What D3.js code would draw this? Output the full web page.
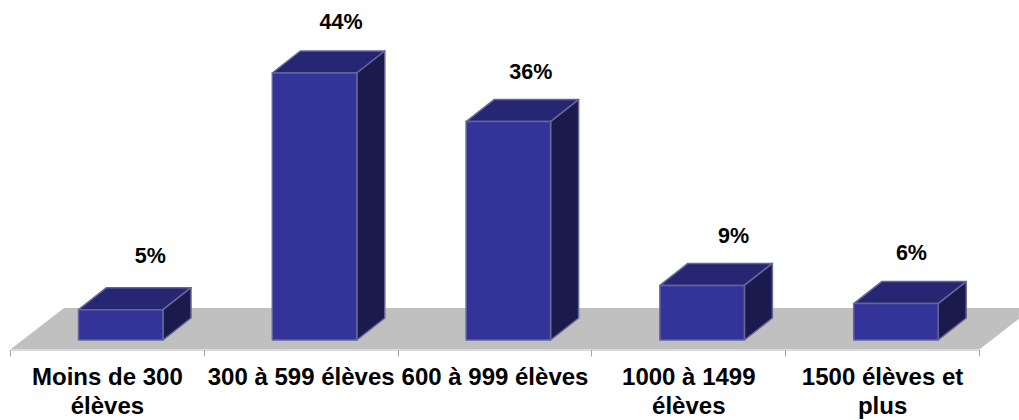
<!DOCTYPE html>
<html><head><meta charset="utf-8">
<script src="https://cdn.jsdelivr.net/npm/d3@7"></script>
<style>html,body{margin:0;padding:0;background:#fff}svg{display:block}text{font-family:"Liberation Sans",Arial,sans-serif;font-weight:bold;fill:#000}</style>
</head><body><script>
const categories = [["Moins de 300","élèves"],["300 à 599 élèves"],["600 à 999 élèves"],["1000 à 1499","élèves"],["1500 élèves et","plus"]];
const values = [5,44,36,9,6];
const labelNudgeX = [30,27,23,32,16];
const labelNudgeY = [-3,-1,1,1,0];

const W=1019,H=420;
const svg=d3.select("body").append("svg").attr("width",W).attr("height",H);
const x=d3.scaleBand().domain(d3.range(categories.length)).range([11,980]).paddingInner(0).paddingOuter(0);
const y=d3.scaleLinear().domain([0,44]).range([340,73]);
const dx=28,dy=-22;
const barOffset=67.5,barW=84.5;
const poly=p=>"M"+p.map(q=>q.join(",")).join("L")+"Z";

// floor
const fy0=349,fy1=308,fdx=53;
svg.append("path").attr("d",poly([[11,fy0],[980,fy0],[980+fdx,fy1],[11+fdx,fy1]])).attr("fill","#c0c0c0");

// axis
const axisG=svg.append("g");
axisG.append("line").attr("x1",11).attr("x2",980).attr("y1",350).attr("y2",350).attr("stroke","#cfcfcf").attr("stroke-width",1.5);
axisG.selectAll(".t").data(d3.range(categories.length+1)).join("line")
 .attr("x1",i=>Math.round(11+i*x.step())-.5).attr("x2",i=>Math.round(11+i*x.step())-.5)
 .attr("y1",350).attr("y2",356.5).attr("stroke","#a6a6a6").attr("stroke-width",1);

// bars
const stroke="#666699";
const g=svg.selectAll(".bar").data(values).join("g");
g.each(function(v,i){
  const s=d3.select(this),l=x(i)+barOffset,r=l+barW,t=y(v),b=y(0);
  const st=e=>e.attr("stroke",stroke).attr("stroke-width",1.5).attr("stroke-linejoin","round");
  s.append("path").attr("d",poly([[l,t],[r,t],[r+dx,t+dy],[l+dx,t+dy]])).attr("fill","#262673").call(st);
  s.append("path").attr("d",poly([[r,t],[r+dx,t+dy],[r+dx,b+dy],[r,b]])).attr("fill","#1a1a4d").call(st);
  s.append("path").attr("d",poly([[l,t],[r,t],[r,b],[l,b]])).attr("fill","#333399").call(st);
  s.append("text").attr("x",l+barW/2+labelNudgeX[i]-0.5).attr("y",t-51+labelNudgeY[i]).attr("dy","0.35em")
   .attr("text-anchor","middle").attr("font-size",21.5).text(v+"%");
});

// category labels
svg.selectAll(".cat").data(categories).join("text").attr("class","cat")
 .attr("text-anchor","middle").attr("font-size",24)
 .each(function(lines,i){
  d3.select(this).selectAll("tspan").data(lines).join("tspan")
   .attr("x",x(i)+x.bandwidth()/2-0.5).attr("y",(d,j)=>385+j*29).text(d=>d);
 });
</script></body></html>
